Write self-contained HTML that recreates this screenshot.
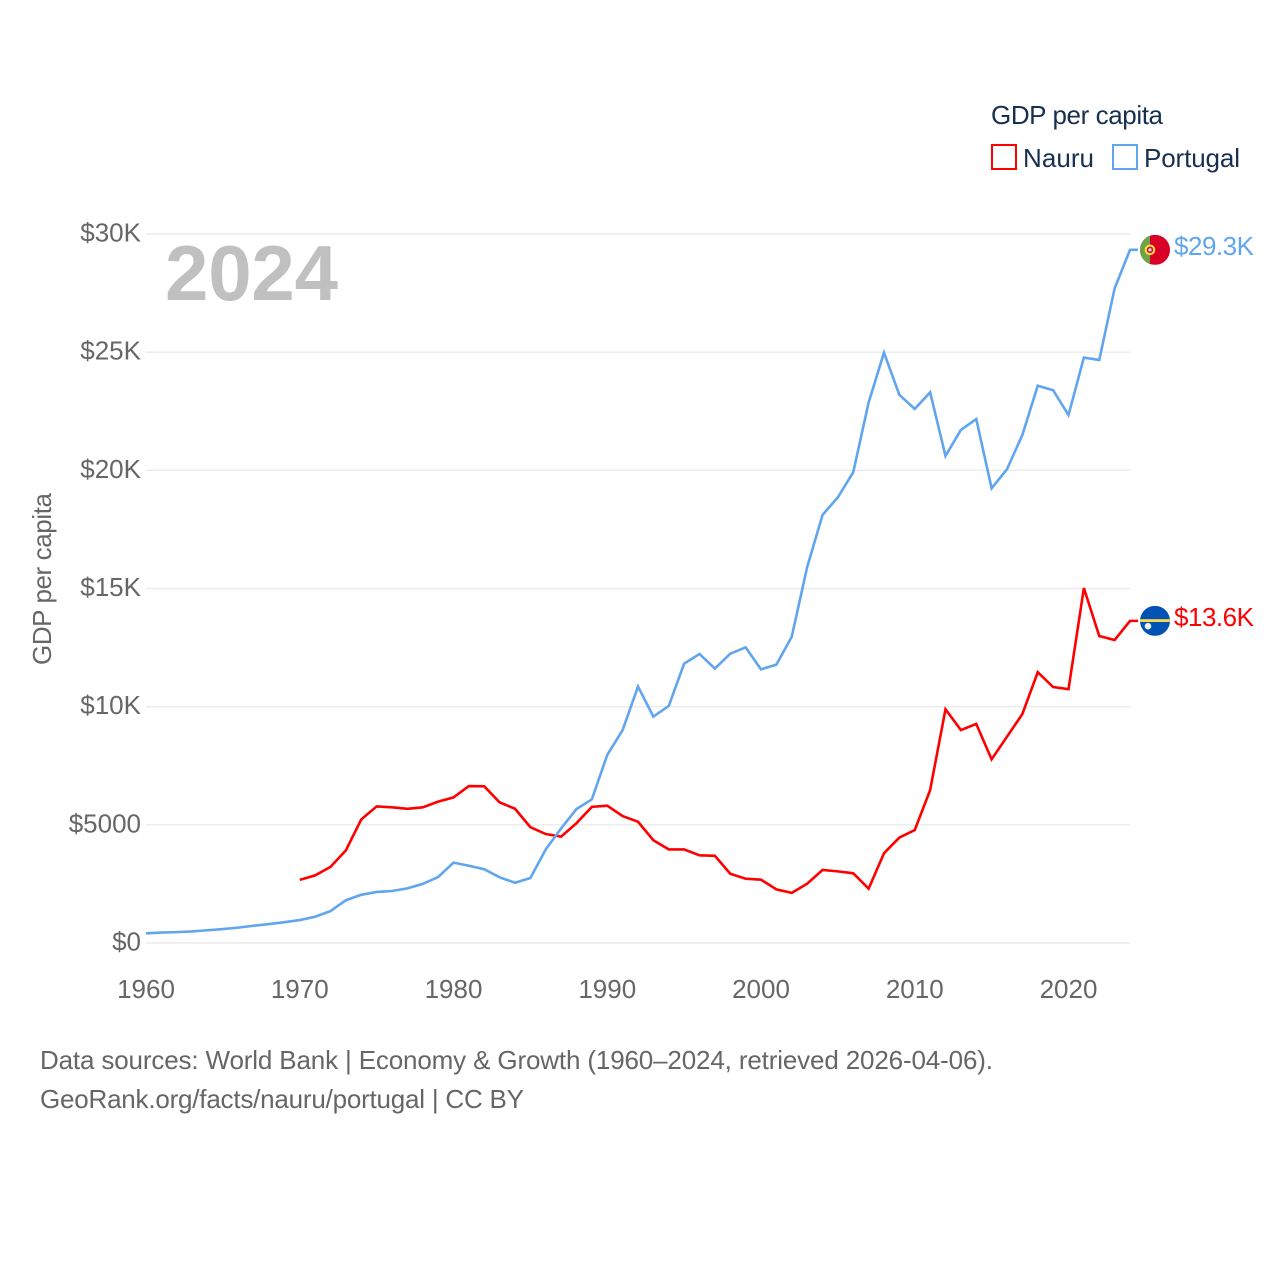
<!DOCTYPE html>
<html>
<head>
<meta charset="utf-8">
<title>GDP per capita: Nauru vs Portugal</title>
<style>
html,body{margin:0;padding:0;background:#fff;width:1280px;height:1280px;overflow:hidden}
svg{display:block}
text{font-family:"Liberation Sans",sans-serif}
</style>
</head>
<body>
<svg id="chart" xmlns="http://www.w3.org/2000/svg" width="1280" height="1280" viewBox="0 0 1280 1280">
  <g id="grid"></g>
  <g id="yticks"></g>
  <g id="xticks"></g>
  <text x="165" y="300" font-size="78" font-weight="700" fill="#c0c0c0" textLength="173">2024</text>
  <text transform="translate(51,579) rotate(-90)" text-anchor="middle" font-size="26" fill="#666" textLength="172">GDP per capita</text>
  <g id="series"></g>
  <g id="end-labels"></g>
  <g>
    <text x="991" y="124" font-size="26" fill="#18304f" textLength="172">GDP per capita</text>
    <g>
      <rect x="992" y="145" width="24" height="24" fill="#fff" stroke="#ff0000" stroke-width="2"></rect>
      <text x="1023" y="167" font-size="26" fill="#18304f" textLength="71">Nauru</text>
    </g>
    <g>
      <rect x="1113" y="145" width="24" height="24" fill="#fff" stroke="#60a5ee" stroke-width="2"></rect>
      <text x="1144" y="167" font-size="26" fill="#18304f" textLength="96">Portugal</text>
    </g>
  </g>
  <text x="40" y="1069" font-size="26" fill="#666" textLength="953">Data sources: World Bank | Economy &amp; Growth (1960–2024, retrieved 2026-04-06).</text>
  <text x="40" y="1108" font-size="26" fill="#666" textLength="484">GeoRank.org/facts/nauru/portugal | CC BY</text>
</svg>
<script>
const years = [1960,1961,1962,1963,1964,1965,1966,1967,1968,1969,1970,1971,1972,1973,1974,1975,1976,1977,1978,1979,1980,1981,1982,1983,1984,1985,1986,1987,1988,1989,1990,1991,1992,1993,1994,1995,1996,1997,1998,1999,2000,2001,2002,2003,2004,2005,2006,2007,2008,2009,2010,2011,2012,2013,2014,2015,2016,2017,2018,2019,2020,2021,2022,2023,2024];
const portugal = [410,440,460,490,540,590,650,730,800,880,970,1110,1350,1810,2040,2160,2200,2310,2500,2790,3400,3270,3120,2780,2550,2750,3960,4850,5670,6080,7960,9010,10850,9580,10030,11820,12230,11610,12240,12510,11580,11780,12960,15900,18110,18860,19920,22870,24980,23190,22600,23300,20610,21710,22170,19240,20050,21500,23580,23390,22340,24770,24670,27700,29330];
const nauru = [null,null,null,null,null,null,null,null,null,null,2670,2860,3220,3920,5230,5780,5740,5680,5740,5980,6160,6640,6630,5950,5680,4900,4610,4500,5070,5760,5810,5370,5130,4350,3960,3960,3710,3690,2930,2720,2680,2270,2120,2510,3090,3030,2950,2300,3800,4460,4780,6470,9890,9010,9270,7770,8730,9690,11460,10830,10740,15020,12990,12820,13630];
const yTickValues = [0,5000,10000,15000,20000,25000,30000];
const yTickLabels = ["$0","$5000","$10K","$15K","$20K","$25K","$30K"];
const xTickValues = [1960,1970,1980,1990,2000,2010,2020];
const xTickLabels = ["1960","1970","1980","1990","2000","2010","2020"];
const portugalEndLabel = "$29.3K";
const nauruEndLabel = "$13.6K";

const NS = "http://www.w3.org/2000/svg";
const BLUE = "#60a5ee", RED = "#ff0000";
const X0 = 146, X1 = 1130, Y0 = 943, Y1 = 234;
function xScale(year){ return X0 + (year - 1960) * (X1 - X0) / (2024 - 1960); }
function yScale(v){ return Y0 - v * (Y0 - Y1) / 30000; }
function make(tag, attrs, parent, txt){
  const el = document.createElementNS(NS, tag);
  for (const k in attrs) el.setAttribute(k, attrs[k]);
  if (txt !== undefined) el.textContent = txt;
  parent.appendChild(el);
  return el;
}

const grid = document.getElementById('grid');
const yt = document.getElementById('yticks');
yTickValues.forEach(function(v, i){
  const gl = make('line', {x1:X0, x2:X1, y1:yScale(v), y2:yScale(v), stroke:'#ebebeb', 'stroke-width':1.4}, grid);
  
  
  const t = make('text', {x:141, y:yScale(v)+7.5, 'text-anchor':'end', 'font-size':26, fill:'#666'}, yt, yTickLabels[i]);
  
  
});

const xt = document.getElementById('xticks');
xTickValues.forEach(function(v, i){
  const t = make('text', {x:xScale(v), y:998, 'text-anchor':'middle', 'font-size':26, fill:'#666'}, xt, xTickLabels[i]);
  
  
});

function linePath(vals){
  let d = '', started = false, lastY = 0;
  vals.forEach(function(v, i){
    if (v === null) return;
    lastY = yScale(v);
    d += (started ? 'L' : 'M') + xScale(years[i]).toFixed(2) + ' ' + lastY.toFixed(2);
    started = true;
  });
  d += 'L' + (X1 + 8) + ' ' + lastY.toFixed(2);
  return d;
}
const series = document.getElementById('series');
const nauruLine = make('path', {d:linePath(nauru), fill:'none', stroke:RED, 'stroke-width':2.6, 'stroke-linejoin':'miter'}, series);


const portugalLine = make('path', {d:linePath(portugal), fill:'none', stroke:BLUE, 'stroke-width':2.6, 'stroke-linejoin':'miter'}, series);



const labels = document.getElementById('end-labels');
const cxFlag = 1155;
const py = yScale(portugal[portugal.length-1]);
const ny = yScale(nauru[nauru.length-1]);

const defs = make('defs', {}, labels);
const cpP = make('clipPath', {id:'clip-pt'}, defs);
make('circle', {cx:cxFlag, cy:py, r:15}, cpP);
const cpN = make('clipPath', {id:'clip-nr'}, defs);
make('circle', {cx:cxFlag, cy:ny, r:15}, cpN);

const flagP = make('g', {'clip-path':'url(#clip-pt)'}, labels);


make('rect', {x:cxFlag-15, y:py-15, width:30, height:30, fill:'#d80027'}, flagP);
make('rect', {x:cxFlag-15, y:py-15, width:10, height:30, fill:'#6da544'}, flagP);
make('circle', {cx:cxFlag-5, cy:py, r:5.3, fill:'#ffda44'}, flagP);
make('circle', {cx:cxFlag-5, cy:py, r:3.2, fill:'#d80027'}, flagP);
make('circle', {cx:cxFlag-5, cy:py, r:1.6, fill:'#eeeeee'}, flagP);

const flagN = make('g', {'clip-path':'url(#clip-nr)'}, labels);


make('rect', {x:cxFlag-15, y:ny-15, width:30, height:30, fill:'#0052b4'}, flagN);
make('rect', {x:cxFlag-15, y:ny-1.7, width:30, height:2.8, fill:'#ffda44'}, flagN);
make('circle', {cx:cxFlag-7, cy:ny+5.3, r:3.3, fill:'#f0f0f0'}, flagN);

const lp = make('text', {x:1174, y:py+5, 'font-size':26, fill:BLUE, textLength:80}, labels, portugalEndLabel);


const ln = make('text', {x:1174, y:ny+5, 'font-size':26, fill:RED, textLength:80}, labels, nauruEndLabel);


</script>
</body>
</html>
